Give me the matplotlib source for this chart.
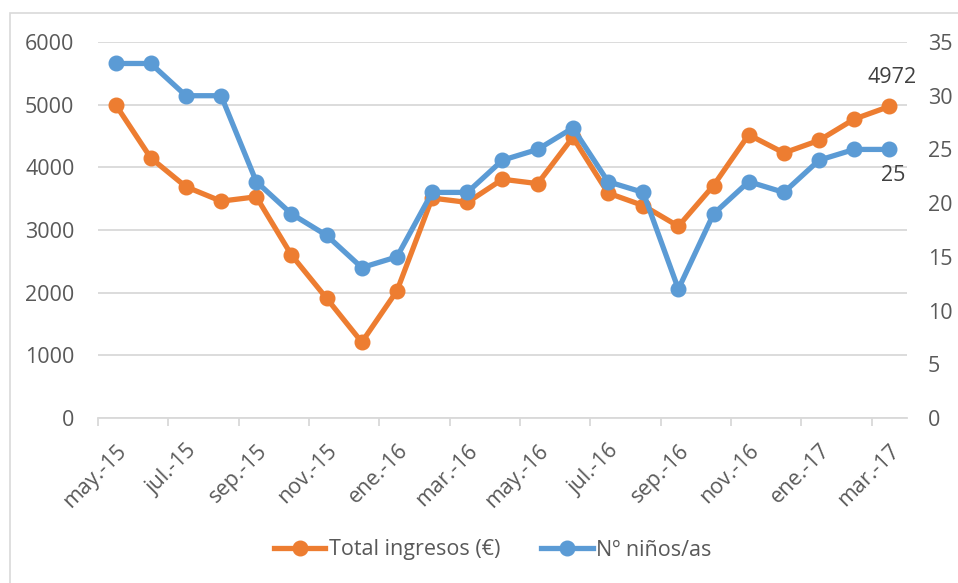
#!/usr/bin/env python3

import numpy as np
from matplotlib import pyplot as plt
from matplotlib.patches import Rectangle

months = [
    "may.-15", "jun.-15", "jul.-15", "ago.-15", "sep.-15", "oct.-15",
    "nov.-15", "dic.-15", "ene.-16", "feb.-16", "mar.-16", "abr.-16",
    "may.-16", "jun.-16", "jul.-16", "ago.-16", "sep.-16", "oct.-16",
    "nov.-16", "dic.-16", "ene.-17", "feb.-17", "mar.-17",
]
ingresos = [
    5000, 4150, 3690, 3460, 3530, 2600, 1910, 1210, 2030, 3510, 3440, 3810,
    3740, 4480, 3590, 3390, 3060, 3710, 4520, 4230, 4430, 4770, 4972,
]
ninos = [
    33, 33, 30, 30, 22, 19, 17, 14, 15, 21, 21, 24,
    25, 27, 22, 21, 12, 19, 22, 21, 24, 25, 25,
]

ORANGE = "#ED7D31"
BLUE = "#5B9BD5"
TEXT = "#595959"
GRID = "#D9D9D9"
FS = 15.5

plt.rcParams["font.family"] = ["Open Sans", "DejaVu Sans"]

W, H = 958, 583
fig = plt.figure(figsize=(W / 100, H / 100), dpi=100)

# outer chart border (only top/left visible in the crop)
fig.patches.append(Rectangle((10 / W, -0.1), 1.2, 1 - 13 / H + 0.1,
                             transform=fig.transFigure, fill=False,
                             edgecolor=GRID, lw=1.2))

ax = fig.add_axes([98 / W, 1 - 418 / H, (907 - 98) / W, (418 - 42) / H])
ax2 = ax.twinx()

x = np.arange(len(months))

l1, = ax.plot(x, ingresos, color=ORANGE, lw=3.8, marker="o", ms=10.5,
              label="Total ingresos (€)", zorder=3)
l2, = ax2.plot(x, ninos, color=BLUE, lw=3.8, marker="o", ms=10.5,
               label="Nº niños/as", zorder=3)

ax.set_xlim(-0.5, len(months) - 0.5)
ax.set_ylim(0, 6000)
ax2.set_ylim(0, 35)
ax.set_yticks(np.arange(0, 6001, 1000))
ax2.set_yticks(np.arange(0, 36, 5))

ax.grid(axis="y", color=GRID, lw=1.3)
ax.set_axisbelow(True)

for a in (ax, ax2):
    for s in a.spines.values():
        s.set_visible(False)
ax.spines["bottom"].set_visible(True)
ax.spines["bottom"].set_color(GRID)
ax.spines["bottom"].set_linewidth(1.3)

# tick marks at category boundaries, labels every two months
ax.set_xticks(np.arange(-0.5, len(months) - 1, 2))
ax.set_xticks(x[::2], minor=True)
ax.set_xticklabels([])
ax.set_xticklabels(months[::2], minor=True, rotation=45, ha="right",
                   rotation_mode="anchor", fontsize=FS, color=TEXT)
ax.tick_params(axis="x", which="major", length=6, color=GRID, width=1.3)
ax.tick_params(axis="x", which="minor", length=0, pad=16)
ax.tick_params(axis="y", length=0, pad=17, labelsize=FS, labelcolor=TEXT)
ax2.tick_params(axis="y", length=0, pad=15, labelsize=FS, labelcolor=TEXT)

ax.annotate(f"{ingresos[-1]}", (x[-1], ingresos[-1]), xytext=(2, 13),
            textcoords="offset points", ha="center", va="bottom",
            fontsize=FS, color="#404040")
ax2.annotate(f"{ninos[-1]}", (x[-1], ninos[-1]), xytext=(3, -11),
             textcoords="offset points", ha="center", va="top",
             fontsize=FS, color="#404040")

fig.legend(handles=[l1, l2], loc="center", bbox_to_anchor=(0.514, 1 - 550 / H),
           ncol=2, frameon=False, fontsize=FS, labelcolor=TEXT,
           handlelength=2.4, columnspacing=1.9, handletextpad=0.15)

fig.savefig("out.png", dpi=100)
